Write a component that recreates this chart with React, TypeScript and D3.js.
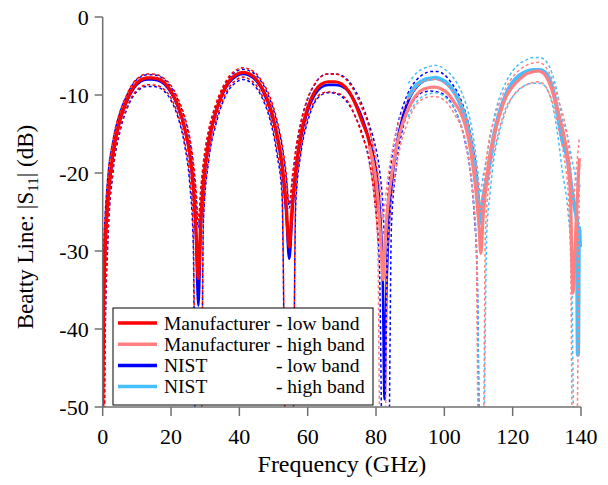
import React from "react";
import * as d3 from "d3";

// Manufacturer, low band (red)
const mfgLowFreq = [0, 0.3, 0.7, 1.5, 3, 5, 7, 9, 11, 13, 14.3, 16, 18, 20, 22, 24, 25.5, 26.5, 27.3, 28, 28.7, 29.5, 31, 33, 35, 37, 39, 41, 43, 45, 47, 49, 51, 52.5, 53.7, 54.6, 55.5, 56.5, 58, 60, 62, 64, 66, 68, 70, 72, 74, 76, 78, 79, 80, 80.7];
const mfgLowMain = [-52, -37, -30, -23.5, -17.5, -13.2, -10.7, -9.0, -8.1, -7.8, -7.8, -7.9, -8.4, -9.5, -11.3, -14.2, -17.5, -21.5, -27, -33.5, -26, -21, -16, -12.3, -9.8, -8.2, -7.4, -7.1, -7.3, -8.0, -9.4, -11.5, -15, -18.8, -24, -29.5, -24, -19.5, -15, -11.6, -9.6, -8.6, -8.3, -8.3, -8.6, -9.5, -11.2, -13.5, -16, -18.5, -22, -25];
const mfgLowUpper = [-34, -30, -26, -20.5, -15.8, -12.2, -10, -8.4, -7.6, -7.3, -7.3, -7.4, -7.9, -8.8, -10.4, -12.8, -15.5, -18.5, -22, -26, -22, -18.5, -14.5, -11.3, -9.1, -7.6, -6.8, -6.5, -6.7, -7.3, -8.5, -10.3, -13.2, -16.3, -20, -24, -20.5, -17, -13.5, -10.4, -8.6, -7.6, -7.3, -7.3, -7.6, -8.4, -9.8, -11.8, -14.2, -16.3, -19, -21.5];
const mfgLowLower = [-60, -60, -40, -28, -19.5, -14.5, -11.7, -9.9, -9.0, -8.7, -8.7, -8.8, -9.3, -10.4, -12.5, -16, -20.5, -27, -60, -60, -60, -25, -18, -13.6, -10.8, -9.0, -8.1, -7.7, -8.0, -8.8, -10.4, -12.8, -17, -22, -60, -60, -60, -23, -17, -13, -10.8, -9.8, -9.6, -9.7, -10.0, -11.0, -12.8, -15.3, -18.2, -21, -25, -29];

// Manufacturer, high band (pink)
const mfgHighFreq = [78, 79.5, 80.5, 81.3, 82.1, 82.6, 83.2, 84.2, 85.5, 87, 89, 91, 93, 95, 97, 99, 101, 103, 105, 106.5, 108, 109.3, 110.1, 110.7, 111.3, 112, 113, 114.4, 116, 118, 120, 122, 124, 126, 127.5, 129, 130.5, 132, 133.5, 135, 136.3, 137, 137.6, 138.5, 139.5];
const mfgHighMain = [-16.5, -19.5, -23, -28, -33.7, -29, -25.5, -21.5, -17.8, -14.8, -12.2, -10.5, -9.5, -9.1, -9.0, -9.2, -9.8, -11, -12.5, -14.5, -18, -22.5, -26.5, -30.3, -26, -22.5, -18.5, -15.5, -12.8, -10.3, -8.9, -8.0, -7.3, -7.0, -6.9, -7.2, -8.2, -10, -12.5, -15.2, -19, -24, -35.4, -27, -18.1];
const mfgHighUpper = [-14.5, -17, -19.5, -22.5, -26, -24, -21.5, -18.5, -15.5, -13, -10.9, -9.4, -8.5, -8.1, -8.0, -8.2, -8.8, -9.9, -11.3, -13, -15.8, -19, -22, -25, -22.5, -19.5, -16, -13.5, -11.2, -9.1, -7.7, -6.8, -6.2, -5.9, -5.8, -6.1, -7, -8.6, -10.8, -13, -16.3, -19.5, -24, -20, -15.5];
const mfgHighLower = [-19, -23, -29, -60, -60, -60, -32, -25, -20.5, -16.8, -13.8, -11.8, -10.7, -10.3, -10.2, -10.4, -11.1, -12.5, -14.2, -16.7, -21.5, -29, -60, -60, -60, -28, -21.5, -17.6, -14.5, -11.7, -10.2, -9.3, -8.7, -8.4, -8.3, -8.6, -9.6, -11.5, -14.5, -17.8, -23, -32, -60, -60, -22];

// NIST, low band (blue)
const nistLowFreq = [0, 0.3, 0.7, 1.5, 3, 5, 7, 9, 11, 13, 14.3, 16, 18, 20, 22, 24, 25.5, 26.5, 27.3, 28, 28.7, 29.5, 31, 33, 35, 37, 39, 41, 43, 45, 47, 49, 51, 52.5, 53.7, 54.6, 55.5, 56.5, 58, 60, 62, 64, 66, 68, 70, 72, 74, 76, 78, 79.5, 81, 82, 82.5, 83, 83.6, 84.5, 86, 88, 90, 92, 94, 96, 98, 100, 102, 104, 106, 107.5, 108.7, 109.6, 110.3];
const nistLowMain = [-42, -36, -30, -24, -17.8, -13.4, -10.9, -9.2, -8.3, -8.0, -8.0, -8.1, -8.6, -9.7, -11.5, -14.4, -17.8, -22, -28, -37, -27, -21.5, -16.3, -12.5, -10, -8.4, -7.6, -7.3, -7.5, -8.2, -9.6, -11.8, -15.3, -19.3, -25, -31, -25, -20, -15.5, -12, -10, -9.0, -8.7, -8.7, -8.9, -9.6, -11, -13, -15.8, -18.5, -24, -34, -49, -36, -28, -22, -16.5, -12.5, -10.2, -8.9, -8.2, -7.9, -7.9, -8.3, -9.1, -10.5, -12.8, -15.6, -19, -22.5, -26];
const nistLowUpper = [-33, -29, -25.5, -20.5, -15.9, -12.3, -10.1, -8.5, -7.7, -7.4, -7.4, -7.5, -8.0, -9.0, -10.6, -13, -15.8, -19, -23, -27, -22.5, -19, -14.8, -11.5, -9.3, -7.8, -7.0, -6.7, -6.9, -7.5, -8.7, -10.6, -13.5, -16.6, -20.5, -24.5, -21, -17.3, -13.6, -10.5, -8.7, -7.6, -7.3, -7.3, -7.5, -8.2, -9.5, -11.3, -13.8, -16, -19.5, -24, -28, -26, -22, -18.5, -14.5, -11.3, -9.2, -8.0, -7.3, -7.0, -7.0, -7.4, -8.4, -9.8, -12, -14.5, -17.3, -20.5, -24];
const nistLowLower = [-60, -60, -42, -29, -20, -14.8, -11.9, -10.1, -9.2, -8.9, -8.9, -9.0, -9.5, -10.7, -12.8, -16.5, -21.5, -29, -60, -60, -60, -26, -18.5, -14, -11.1, -9.3, -8.4, -8.0, -8.3, -9.1, -10.7, -13.2, -17.6, -23, -60, -60, -60, -24, -17.5, -13.4, -11, -10, -9.7, -9.8, -10.2, -11.2, -12.8, -15, -18.5, -23, -32, -60, -60, -60, -60, -27, -19, -14, -11.5, -10.2, -9.6, -9.5, -9.6, -10, -11, -12.8, -15.8, -19.5, -25, -33, -60];

// NIST, high band (light blue)
const nistHighFreq = [89.4, 90, 91, 92, 94, 96, 97.3, 99, 101, 103, 105, 106.5, 107.6, 108.7, 109.6, 110.5, 111.3, 112.4, 113.4, 114.4, 116, 118, 120, 122, 124, 126, 128, 130, 131.5, 133, 134.6, 136.2, 137.2, 138.2, 138.8, 139.1, 139.4, 139.7];
const nistHighMain = [-10.4, -9.9, -9.2, -8.7, -8.1, -7.9, -7.8, -8.0, -8.6, -9.7, -11.5, -13.5, -15.8, -19, -22.5, -26.4, -23.5, -20.9, -18.3, -15.5, -12.5, -10, -8.4, -7.5, -7.0, -6.8, -6.8, -7.4, -9.0, -11.8, -15.8, -18.5, -22, -24.5, -26, -43.3, -27, -29.5];
const nistHighUpper = [-8.5, -8.2, -7.6, -7.1, -6.6, -6.3, -6.2, -6.4, -7.0, -8.0, -9.6, -11.4, -13.3, -16, -19, -22.5, -20.5, -18, -15.5, -13.2, -10.5, -8.4, -6.9, -6.0, -5.5, -5.2, -5.2, -5.8, -7.2, -9.6, -13.2, -15.5, -18, -20, -21.5, -23, -21, -22];
const nistHighLower = [-12.8, -12.2, -11.4, -10.8, -10.1, -9.8, -9.7, -9.9, -10.6, -11.8, -14, -16.5, -19.5, -24, -31, -60, -60, -28, -22.5, -18.5, -15, -12, -10.2, -9.2, -8.7, -8.5, -8.5, -9.2, -11, -14.5, -20, -25, -32, -60, -60, -60, -60, -60];

const xTicks = [0, 20, 40, 60, 80, 100, 120, 140];
const yTicks = [0, -10, -20, -30, -40, -50];
const legendNames = ["Manufacturer", "Manufacturer", "NIST", "NIST"];
const legendBands = ["- low band", "- high band", "- low band", "- high band"];

const W = 608;
const H = 485;
const left = 102.7, right = 581, top = 17, bottom = 407;
const font = "'Liberation Serif', 'Times New Roman', serif";

const series = [
  { f: nistLowFreq, main: nistLowMain, up: nistLowUpper, lo: nistLowLower, color: "#0000ff", width: 2.6 },
  { f: nistHighFreq, main: nistHighMain, up: nistHighUpper, lo: nistHighLower, color: "#45bfff", width: 4.2 },
  { f: mfgLowFreq, main: mfgLowMain, up: mfgLowUpper, lo: mfgLowLower, color: "#ff0000", width: 3.2 },
  { f: mfgHighFreq, main: mfgHighMain, up: mfgHighUpper, lo: mfgHighLower, color: "#ff8080", width: 3.2 },
];
const legendColors = ["#ff0000", "#ff8080", "#0000ff", "#45bfff"];

export default function App() {
  const x = d3.scaleLinear().domain([0, 140]).range([left, right]);
  const y = d3.scaleLinear().domain([0, -50]).range([top, bottom]);
  const line = (f: number[], v: number[]) =>
    d3
      .line<number>()
      .x((_, i) => x(f[i]))
      .y((d) => y(d))
      .curve(d3.curveMonotoneX)(v) || "";

  return (
    <svg width={W} height={H} style={{ position: "absolute", left: 0, top: 0, background: "#fff" }} fontFamily={font}>
      <defs>
        <clipPath id="plot">
          <rect x={left} y={top - 2} width={right - left + 2} height={bottom - top + 2} />
        </clipPath>
      </defs>

      <g clipPath="url(#plot)" fill="none">
        {series.map((s, i) => (
          <g key={i}>
            <path d={line(s.f, s.up)} stroke={s.color} strokeWidth={1.5} strokeDasharray="3,2.5" />
            <path d={line(s.f, s.lo)} stroke={s.color} strokeWidth={1.5} strokeDasharray="3,2.5" />
            <path d={line(s.f, s.main)} stroke={s.color} strokeWidth={s.width} strokeLinejoin="round" />
          </g>
        ))}
      </g>

      {/* axes */}
      <g stroke="#707070" strokeWidth={1.5}>
        <line x1={left} x2={left} y1={top} y2={bottom} />
        <line x1={left} x2={right} y1={bottom} y2={bottom} />
        {yTicks.map((t) => (
          <line key={t} x1={left - 8} x2={left} y1={y(t)} y2={y(t)} />
        ))}
        {xTicks.map((t) => (
          <line key={t} x1={x(t)} x2={x(t)} y1={bottom} y2={bottom + 9} />
        ))}
      </g>
      <g fontSize={22} fill="#000">
        {yTicks.map((t) => (
          <text key={t} x={left - 14} y={y(t) + 7.5} textAnchor="end">
            {t}
          </text>
        ))}
        {xTicks.map((t) => (
          <text key={t} x={x(t)} y={bottom + 37} textAnchor="middle">
            {t}
          </text>
        ))}
      </g>
      <text x={(left + right) / 2} y={472} fontSize={24} textAnchor="middle">
        Frequency (GHz)
      </text>
      <text transform="translate(33,227) rotate(-90)" fontSize={23} textAnchor="middle">
        Beatty Line: |S
        <tspan dy={5} fontSize={15}>11</tspan>
        <tspan dy={-5}>| (dB)</tspan>
      </text>

      {/* legend */}
      <g>
        <rect x={113} y={308} width={260} height={97} fill="#fff" stroke="#000" strokeWidth={1} />
        {legendNames.map((n, i) => {
          const ly = 323 + i * 21.2;
          return (
            <g key={i}>
              <line x1={118} x2={157} y1={ly} y2={ly} stroke={legendColors[i]} strokeWidth={3.5} />
              <text x={164} y={ly + 6.5} fontSize={19.5}>{n}</text>
              <text x={276} y={ly + 6.5} fontSize={19.5}>{legendBands[i]}</text>
            </g>
          );
        })}
      </g>
    </svg>
  );
}
